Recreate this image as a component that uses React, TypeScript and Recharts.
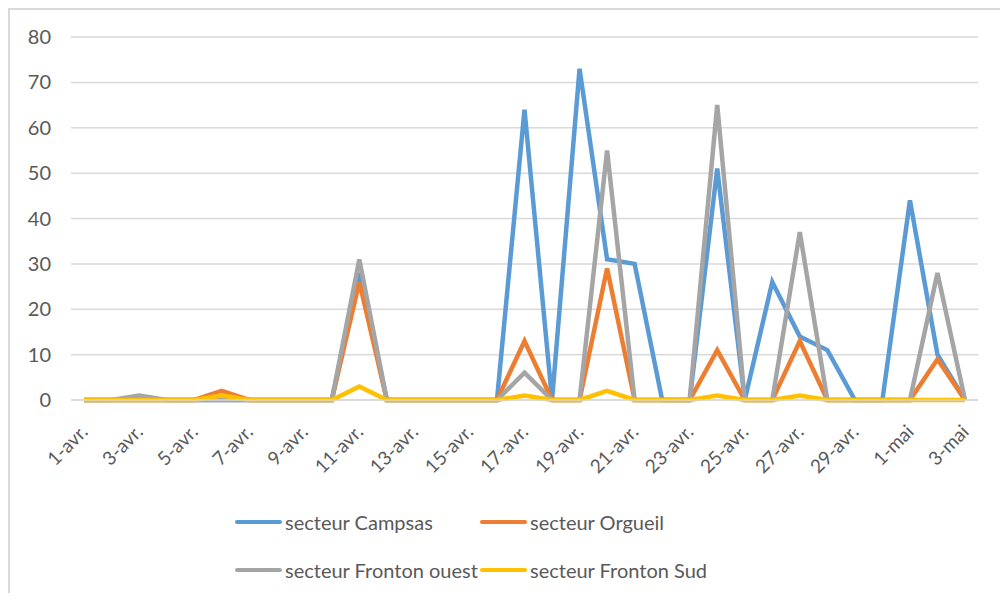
import { LineChart, Line, XAxis, YAxis, CartesianGrid, Legend } from 'recharts';

const days = [
  '1-avr.', '2-avr.', '3-avr.', '4-avr.', '5-avr.', '6-avr.', '7-avr.', '8-avr.', '9-avr.', '10-avr.',
  '11-avr.', '12-avr.', '13-avr.', '14-avr.', '15-avr.', '16-avr.', '17-avr.', '18-avr.', '19-avr.', '20-avr.',
  '21-avr.', '22-avr.', '23-avr.', '24-avr.', '25-avr.', '26-avr.', '27-avr.', '28-avr.', '29-avr.', '30-avr.',
  '1-mai', '2-mai', '3-mai',
];

const campsas = [0, 0, 0, 0, 0, 0, 0, 0, 0, 0, 28, 0, 0, 0, 0, 0, 64, 0, 73, 31, 30, 0, 0, 51, 0, 26, 14, 11, 0, 0, 44, 10, 0];
const orgueil = [0, 0, 0, 0, 0, 2, 0, 0, 0, 0, 26, 0, 0, 0, 0, 0, 13, 0, 0, 29, 0, 0, 0, 11, 0, 0, 13, 0, 0, 0, 0, 9, 0];
const frontonOuest = [0, 0, 1, 0, 0, 0, 0, 0, 0, 0, 31, 0, 0, 0, 0, 0, 6, 0, 0, 55, 0, 0, 0, 65, 0, 0, 37, 0, 0, 0, 0, 28, 0];
const frontonSud = [0, 0, 0, 0, 0, 1, 0, 0, 0, 0, 3, 0, 0, 0, 0, 0, 1, 0, 0, 2, 0, 0, 0, 1, 0, 0, 1, 0, 0, 0, 0, 0, 0];

const yTicks = [0, 10, 20, 30, 40, 50, 60, 70, 80];

const series = [
  { key: 'campsas', name: 'secteur Campsas', color: '#5B9BD5' },
  { key: 'orgueil', name: 'secteur Orgueil', color: '#ED7D31' },
  { key: 'frontonOuest', name: 'secteur Fronton ouest', color: '#A5A5A5' },
  { key: 'frontonSud', name: 'secteur Fronton Sud', color: '#FFC000' },
];

const data = days.map((day, i) => ({
  day,
  campsas: campsas[i],
  orgueil: orgueil[i],
  frontonOuest: frontonOuest[i],
  frontonSud: frontonSud[i],
}));

const FONT = 'Lato, "Liberation Sans", sans-serif';
const TEXT = '#595959';

function DayTick(props: any) {
  const { x, y, payload } = props;
  return (
    <text
      transform={`translate(${x + 5},${y + 25}) rotate(-45)`}
      textAnchor="end"
      fill={TEXT}
      fontSize={19}
      fontFamily={FONT}
    >
      {payload.value}
    </text>
  );
}

function LegendBox() {
  const item = (s: (typeof series)[number]) => (
    <div key={s.key} style={{ display: 'flex', alignItems: 'center', width: 245 }}>
      <div style={{ width: 47, height: 4, background: s.color, borderRadius: 2, marginRight: 3 }} />
      <span style={{ color: TEXT, fontSize: 20, fontFamily: FONT, whiteSpace: 'nowrap' }}>{s.name}</span>
    </div>
  );
  return (
    <div style={{ paddingLeft: 225 }}>
      <div style={{ display: 'flex', height: 48, alignItems: 'center', marginTop: -2 }}>
        {item(series[0])}
        {item(series[1])}
      </div>
      <div style={{ display: 'flex', height: 48, alignItems: 'center' }}>
        {item(series[2])}
        {item(series[3])}
      </div>
    </div>
  );
}

export default function App() {
  return (
    <div
      style={{
        width: 990,
        height: 583,
        borderTop: '2px solid #d9d9d9',
        borderLeft: '2px solid #d9d9d9',
        background: '#fff',
      }}
    >
      <LineChart width={990} height={583} data={data} margin={{ top: 27, right: 22, left: 0, bottom: 5 }}>
        <CartesianGrid vertical={false} stroke="#d9d9d9" strokeWidth={1.5} />
        <XAxis
          dataKey="day"
          interval={1}
          tick={<DayTick />}
          tickLine={false}
          axisLine={{ stroke: '#d9d9d9', strokeWidth: 1.5 }}
          padding={{ left: 13, right: 13 }}
          height={100}
        />
        <YAxis
          domain={[0, 80]}
          ticks={yTicks}
          width={61}
          axisLine={false}
          tickLine={false}
          tickSize={0}
          tickMargin={20}
          tick={{ fill: TEXT, fontSize: 20, fontFamily: FONT }}
        />
        <Legend
          verticalAlign="bottom"
          content={<LegendBox />}
          wrapperStyle={{ left: 0, width: 990, height: 88 }}
        />
        {series.map((s) => (
          <Line
            key={s.key}
            type="linear"
            dataKey={s.key}
            name={s.name}
            stroke={s.color}
            strokeWidth={4.5}
            dot={false}
            activeDot={false}
            isAnimationActive={false}
          />
        ))}
      </LineChart>
    </div>
  );
}
